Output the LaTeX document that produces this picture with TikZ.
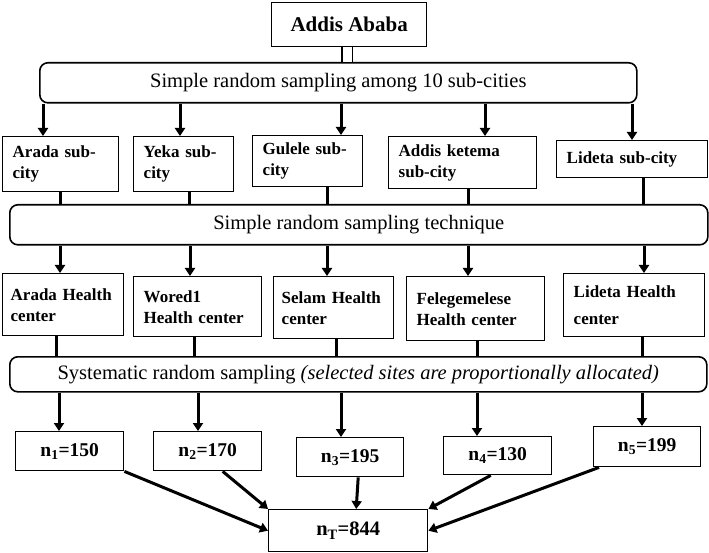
\documentclass[tikz,border=0pt]{standalone}
\usepackage{fontspec}
\setmainfont{Liberation Serif}
\usetikzlibrary{arrows.meta}

\begin{document}
\begin{tikzpicture}[x=1pt, y=-1pt,
    cbox/.style={draw, line width=1.4pt, anchor=north west, align=left, inner xsep=10pt,
      font=\fontsize{17}{21}\selectfont\bfseries},
    nbox/.style={draw, line width=1.4pt, anchor=north west,
      font=\fontsize{19.5}{22}\selectfont\bfseries},
    rbox/.style={draw, line width=1.6pt, rounded corners=8pt, anchor=north west,
      font=\fontsize{20.5}{24}\selectfont},
    arr/.style={line width=3pt, -{Triangle[length=8pt,width=10pt]}},
    lnk/.style={line width=3pt}]
    \useasboundingbox (0,0) rectangle (709,553);
    % Addis Ababa
    \node[nbox, minimum width=155pt, minimum height=44pt, font=\fontsize{21}{24}\selectfont\bfseries] (aa) at (271,2) {Addis Ababa};
    \node[rbox, minimum width=597pt, minimum height=40pt] (r1) at (39,62) {Simple random sampling among 10 sub-cities};
    \draw[line width=1.5pt, double, double distance=9pt] ([xshift=-2pt]aa.south) -- ([xshift=-2pt]aa.south |- r1.north);
    % Sub-cities
    \node[cbox, text width=96pt, minimum height=55pt] (sc1) at (2,136) {Arada sub-\\city};
    \node[cbox, text width=80pt, minimum height=55pt] (sc2) at (133,136) {Yeka sub-\\city};
    \node[cbox, text width=90pt, minimum height=51pt] (sc3) at (252,135) {Gulele sub-\\city};
    \node[cbox, text width=128pt, minimum height=52pt] (sc4) at (388,136) {Addis ketema\\sub-city};
    \node[cbox, text width=131pt, minimum height=37pt] (sc5) at (556,140) {Lideta sub-city};
    \node[rbox, minimum width=698pt, minimum height=40pt] (r2) at (9,204) {Simple random sampling technique};
    % Health centers
    \node[cbox, inner xsep=8pt, text width=105pt, minimum height=62pt] (hc1) at (2,273) {Arada Health\\center};
    \node[cbox, text width=108pt, minimum height=60pt] (hc2) at (133,276) {Wored1\\Health center};
    \node[cbox, inner xsep=8pt, text width=104pt, minimum height=62pt] (hc3) at (273,276) {Selam Health\\center};
    \node[cbox, text width=118pt, minimum height=64pt] (hc4) at (406,276) {Felegemelese\\Health center};
    \node[cbox, text width=121pt, minimum height=63pt] (hc5) at (563,273) {Lideta Health\\[6pt]center};
    \node[rbox, minimum width=697pt, minimum height=35pt] (r3) at (9,356) {Systematic random sampling \textit{(selected sites are proportionally allocated)}};
    % Sample sizes
    \node[nbox, minimum width=108pt, minimum height=39pt] (n1) at (15,431) {n\textsubscript{1}=150};
    \node[nbox, minimum width=108pt, minimum height=39pt] (n2) at (153,431) {n\textsubscript{2}=170};
    \node[nbox, minimum width=107pt, minimum height=39pt] (n3) at (296,437) {n\textsubscript{3}=195};
    \node[nbox, minimum width=108pt, minimum height=38pt] (n4) at (443,436) {n\textsubscript{4}=130};
    \node[nbox, minimum width=107pt, minimum height=40pt] (n5) at (593,426) {n\textsubscript{5}=199};
    \node[nbox, minimum width=159pt, minimum height=42pt, font=\fontsize{20.5}{24}\selectfont\bfseries] (nt) at (268,509) {n\textsubscript{T}=844};
    % Connectors
    \foreach \a/\b/\c/\d/\e [count=\i] in {43/60/60/56/59, 180/189/190/194/198, 341/327/327/336/341, 485/468/468/477/477, 632/643/644/642/642} {
      \draw[arr] (\a,0 |- r1.south) -- (\a,0 |- sc\i.north);
      \draw[lnk] (\b,0 |- sc\i.south) -- (\b,0 |- r2.north);
      \draw[arr] (\c,0 |- r2.south) -- (\c,0 |- hc\i.north);
      \draw[lnk] (\d,0 |- hc\i.south) -- (\d,0 |- r3.north);
      \draw[arr] (\e,0 |- r3.south) -- (\e,0 |- n\i.north);
    }
    \draw[arr] (n1.south east) -- (nt.west);
    \draw[arr] ([xshift=15pt]n2.south) -- (nt.north west);
    \draw[arr] ([xshift=8pt]n3.south) -- ([xshift=8pt]nt.north);
    \draw[arr] ([xshift=-7pt]n4.south) -- (nt.north east);
    \draw[arr] ([xshift=6pt]n5.south west) -- (nt.east);
\end{tikzpicture}
\end{document}
